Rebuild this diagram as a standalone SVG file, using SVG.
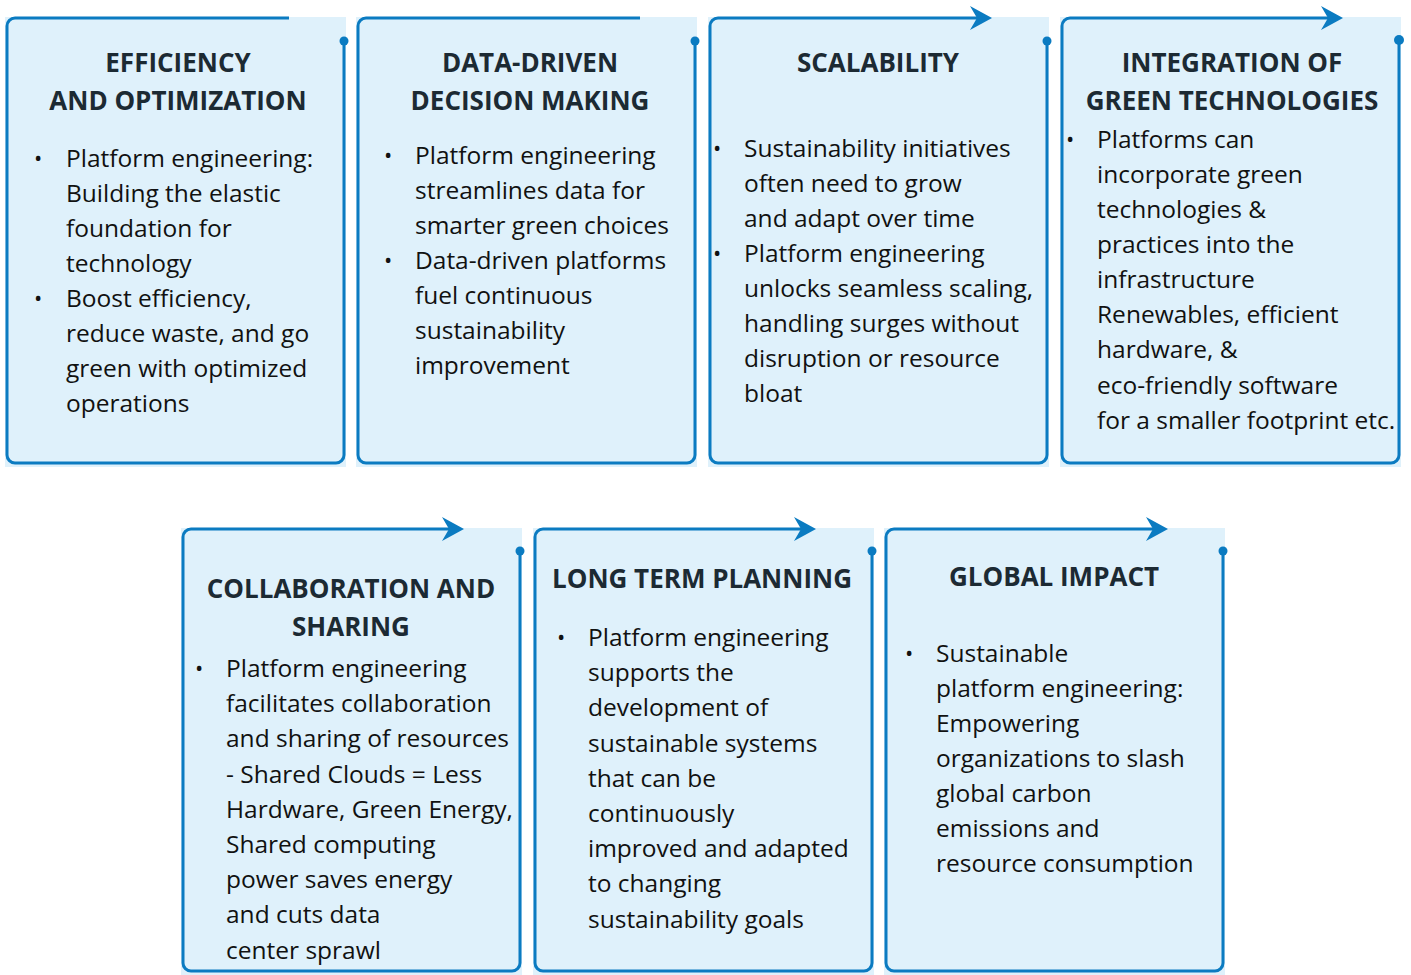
<svg xmlns="http://www.w3.org/2000/svg" width="1411" height="975" viewBox="0 0 1411 975">
<style>
.bg{fill:#dff1fb}
.bd{fill:none;stroke:#0b7bc1;stroke-width:3;stroke-linejoin:round}
.dot{fill:#0b7bc1}
.h{font-family:"Open Sans","Liberation Sans",sans-serif;font-weight:700;font-size:26px;fill:#1c2a33;text-anchor:middle}
.t{font-family:"Open Sans","Liberation Sans",sans-serif;font-size:24.5px;fill:#111}
.b{font-family:"Open Sans","Liberation Sans",sans-serif;font-size:22px;fill:#111}
</style>
<defs>
<marker id="ah" markerUnits="userSpaceOnUse" viewBox="0 0 22 24" refX="14" refY="12" markerWidth="22" markerHeight="24" orient="auto-start-reverse">
<path d="M0,0 L22,12 L0,24 L7,12 z" fill="#0b7bc1"/>
</marker>
</defs>
<g id="connectors"></g>

<g id="node-efficiency">
<rect class="bg" x="5" y="17" width="341" height="450"/>
<path class="bd" d="M289,18 H15 A8,8 0 0 0 7,26 V455 A8,8 0 0 0 15,463 H336 A8,8 0 0 0 344,455 V41"/>
<circle class="dot" cx="344" cy="41" r="4.5"/>
<text class="h" x="178" y="72">EFFICIENCY</text>
<text class="h" x="178" y="110">AND OPTIMIZATION</text>
<text class="b" x="34" y="166">•</text>
<text class="t" x="66" y="167">Platform engineering:</text>
<text class="t" x="66" y="202">Building the elastic</text>
<text class="t" x="66" y="237">foundation for</text>
<text class="t" x="66" y="272">technology</text>
<text class="b" x="34" y="306">•</text>
<text class="t" x="66" y="307">Boost efficiency,</text>
<text class="t" x="66" y="342">reduce waste, and go</text>
<text class="t" x="66" y="377">green with optimized</text>
<text class="t" x="66" y="412">operations</text>
</g>

<g id="node-data-driven">
<rect class="bg" x="356" y="17" width="341" height="450"/>
<path class="bd" d="M640,18 H366 A8,8 0 0 0 358,26 V455 A8,8 0 0 0 366,463 H687 A8,8 0 0 0 695,455 V41"/>
<circle class="dot" cx="695" cy="41" r="4.5"/>
<text class="h" x="530" y="72">DATA-DRIVEN</text>
<text class="h" x="530" y="110">DECISION MAKING</text>
<text class="b" x="384" y="163">•</text>
<text class="t" x="415" y="164">Platform engineering</text>
<text class="t" x="415" y="199">streamlines data for</text>
<text class="t" x="415" y="234">smarter green choices</text>
<text class="b" x="384" y="268">•</text>
<text class="t" x="415" y="269">Data-driven platforms</text>
<text class="t" x="415" y="304">fuel continuous</text>
<text class="t" x="415" y="339">sustainability</text>
<text class="t" x="415" y="374">improvement</text>
</g>

<g id="node-scalability">
<rect class="bg" x="708" y="17" width="341" height="450"/>
<path class="bd" marker-start="url(#ah)" d="M984,18 H718 A8,8 0 0 0 710,26 V455 A8,8 0 0 0 718,463 H1039 A8,8 0 0 0 1047,455 V41"/>
<circle class="dot" cx="1047" cy="41" r="4.5"/>
<text class="h" x="878" y="72">SCALABILITY</text>
<text class="b" x="713" y="156">•</text>
<text class="t" x="744" y="157">Sustainability initiatives</text>
<text class="t" x="744" y="192">often need to grow</text>
<text class="t" x="744" y="227">and adapt over time</text>
<text class="b" x="713" y="261">•</text>
<text class="t" x="744" y="262">Platform engineering</text>
<text class="t" x="744" y="297">unlocks seamless scaling,</text>
<text class="t" x="744" y="332">handling surges without</text>
<text class="t" x="744" y="367">disruption or resource</text>
<text class="t" x="744" y="402">bloat</text>
</g>

<g id="node-green-tech">
<rect class="bg" x="1060" y="17" width="341" height="450"/>
<path class="bd" marker-start="url(#ah)" d="M1335,18 H1070 A8,8 0 0 0 1062,26 V455 A8,8 0 0 0 1070,463 H1391 A8,8 0 0 0 1399,455 V41"/>
<circle class="dot" cx="1399" cy="40" r="5"/>
<text class="h" x="1232" y="72">INTEGRATION OF</text>
<text class="h" x="1232" y="110">GREEN TECHNOLOGIES</text>
<text class="b" x="1066" y="147">•</text>
<text class="t" x="1097" y="148">Platforms can</text>
<text class="t" x="1097" y="183">incorporate green</text>
<text class="t" x="1097" y="218">technologies &amp;</text>
<text class="t" x="1097" y="253">practices into the</text>
<text class="t" x="1097" y="288">infrastructure</text>
<text class="t" x="1097" y="323">Renewables, efficient</text>
<text class="t" x="1097" y="358">hardware, &amp;</text>
<text class="t" x="1097" y="394">eco-friendly software</text>
<text class="t" x="1097" y="429">for a smaller footprint etc.</text>
</g>

<g id="node-collaboration">
<rect class="bg" x="181" y="528" width="341" height="447"/>
<path class="bd" marker-start="url(#ah)" d="M456,529 H191 A8,8 0 0 0 183,537 V963 A8,8 0 0 0 191,971 H512 A8,8 0 0 0 520,963 V551"/>
<circle class="dot" cx="520" cy="551" r="4.5"/>
<text class="h" x="351" y="598">COLLABORATION AND</text>
<text class="h" x="351" y="636">SHARING</text>
<text class="b" x="195" y="676">•</text>
<text class="t" x="226" y="677">Platform engineering</text>
<text class="t" x="226" y="712.2">facilitates collaboration</text>
<text class="t" x="226" y="747.4">and sharing of resources</text>
<text class="t" x="226" y="782.6">- Shared Clouds = Less</text>
<text class="t" x="226" y="817.8">Hardware, Green Energy,</text>
<text class="t" x="226" y="853">Shared computing</text>
<text class="t" x="226" y="888.2">power saves energy</text>
<text class="t" x="226" y="923.4">and cuts data</text>
<text class="t" x="226" y="958.6">center sprawl</text>
</g>

<g id="node-long-term">
<rect class="bg" x="533" y="528" width="341" height="447"/>
<path class="bd" marker-start="url(#ah)" d="M808,529 H543 A8,8 0 0 0 535,537 V963 A8,8 0 0 0 543,971 H864 A8,8 0 0 0 872,963 V551"/>
<circle class="dot" cx="872" cy="551" r="4.5"/>
<text class="h" x="702" y="588">LONG TERM PLANNING</text>
<text class="b" x="557" y="645">•</text>
<text class="t" x="588" y="646">Platform engineering</text>
<text class="t" x="588" y="681.2">supports the</text>
<text class="t" x="588" y="716.4">development of</text>
<text class="t" x="588" y="751.6">sustainable systems</text>
<text class="t" x="588" y="786.8">that can be</text>
<text class="t" x="588" y="822">continuously</text>
<text class="t" x="588" y="857.2">improved and adapted</text>
<text class="t" x="588" y="892.4">to changing</text>
<text class="t" x="588" y="927.6">sustainability goals</text>
</g>

<g id="node-global-impact">
<rect class="bg" x="884" y="528" width="341" height="447"/>
<path class="bd" marker-start="url(#ah)" d="M1160,529 H894 A8,8 0 0 0 886,537 V963 A8,8 0 0 0 894,971 H1215 A8,8 0 0 0 1223,963 V551"/>
<circle class="dot" cx="1223" cy="551" r="4.5"/>
<text class="h" x="1054" y="586">GLOBAL IMPACT</text>
<text class="b" x="905" y="661">•</text>
<text class="t" x="936" y="662">Sustainable</text>
<text class="t" x="936" y="697">platform engineering:</text>
<text class="t" x="936" y="732">Empowering</text>
<text class="t" x="936" y="767">organizations to slash</text>
<text class="t" x="936" y="802">global carbon</text>
<text class="t" x="936" y="837">emissions and</text>
<text class="t" x="936" y="872">resource consumption</text>
</g>
</svg>
